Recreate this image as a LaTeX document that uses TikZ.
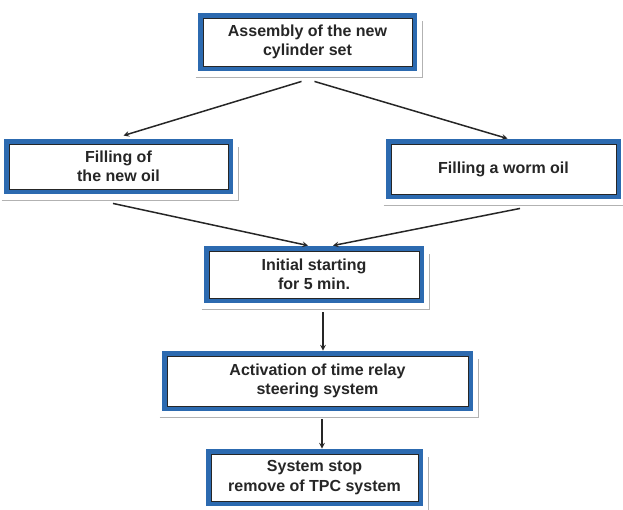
\documentclass[tikz,border=0pt]{standalone}
\usepackage{fontspec}
\setmainfont{Liberation Sans}
\usetikzlibrary{shapes, arrows}
\definecolor{frameblue}{HTML}{2C6AB0}
\definecolor{inkgray}{HTML}{262626}
\tikzstyle{stage}=[rectangle, draw=inkgray, line width=0.9pt, fill=white,
  inner sep=0pt, align=center, text=inkgray,
  font=\fontsize{16}{19.5}\selectfont\bfseries,
  preaction={draw=frameblue, line width=10pt}]
\tikzstyle{shade}=[draw=gray!60, line width=1pt]
\tikzstyle{arrow}=[->, >=stealth, draw=inkgray, line width=1.5pt]

\begin{document}
\begin{tikzpicture}[x=1pt, y=-1pt]
      \useasboundingbox (0,0) rectangle (623,510);

      \node[stage, minimum width=209, minimum height=48] (assemblyBox) at (307.5,42)
        {Assembly of the new\\cylinder set};
      \node[stage, minimum width=219, minimum height=45] (newOil) at (118.5,166.5)
        {Filling of\\the new oil};
      \node[stage, minimum width=225, minimum height=50] (wormOil) at (503.5,169)
        {Filling a worm oil};
      \node[stage, minimum width=210, minimum height=47] (initialStart) at (314,274.5)
        {Initial starting\\for 5 min.};
      \node[stage, minimum width=301, minimum height=50] (relayActivation) at (317.5,381)
        {Activation of time relay\\steering system};
      \node[stage, minimum width=207, minimum height=47] (systemStop) at (314.5,477.5)
        {System stop\\remove of TPC system};

      % grey rim under and right of every box
      \foreach \n in {assemblyBox, newOil, wormOil, initialStart, relayActivation, systemStop}{
        \draw[shade] ([xshift=-7pt,yshift=-11pt]\n.south west) -- ([xshift=10pt,yshift=-11pt]\n.south east)
          -- ([xshift=10pt,yshift=-3pt]\n.north east);
      }

      % split into the two oil fillings
      \draw[arrow] ([xshift=-6pt,yshift=-15pt]assemblyBox.south) -- ([xshift=5pt,yshift=8pt]newOil.north);
      \draw[arrow] ([xshift=7pt,yshift=-15pt]assemblyBox.south) -- ([xshift=4pt,yshift=5pt]wormOil.north);

      % join again at the start
      \draw[arrow] ([xshift=-5.5pt,yshift=-14pt]newOil.south) -- ([xshift=-6pt,yshift=5pt]initialStart.north);
      \draw[arrow] ([xshift=16.5pt,yshift=-14pt]wormOil.south) -- ([xshift=19pt,yshift=5pt]initialStart.north);

      \draw[arrow] ([xshift=9pt,yshift=-14pt]initialStart.south) -- ([xshift=5.5pt,yshift=5pt]relayActivation.north);
      \draw[arrow] ([xshift=4.5pt,yshift=-13pt]relayActivation.south) -- ([xshift=7.5pt,yshift=5pt]systemStop.north);

    \end{tikzpicture}
\end{document}
